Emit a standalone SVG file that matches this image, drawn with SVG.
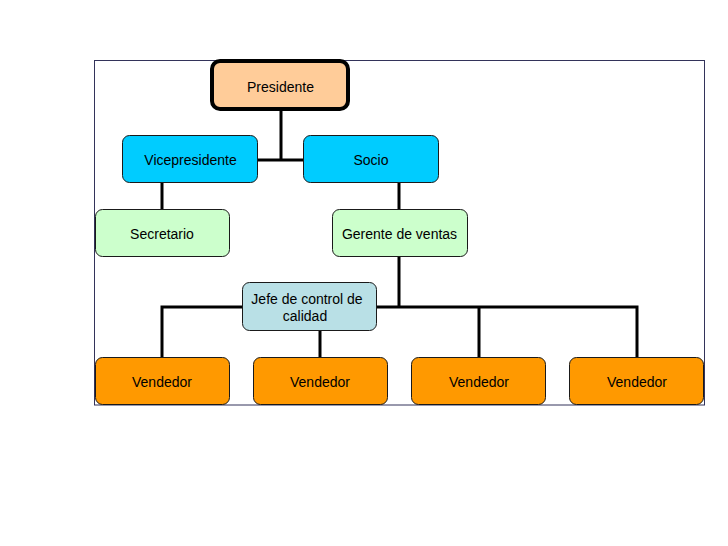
<svg xmlns="http://www.w3.org/2000/svg" width="728" height="546" viewBox="0 0 728 546">
<style>
.box{stroke:#1a1a1a;stroke-width:1}
.t{font-family:"Liberation Sans",Arial,sans-serif;font-size:14px;fill:#000;text-anchor:middle}
.c{stroke:#000;stroke-width:3;fill:none}
</style>
<rect width="728" height="546" fill="#fff"/>
<rect id="frame" x="94.5" y="60.5" width="610" height="344.5" fill="#fff" stroke="#33335a" stroke-width="1"/>
<g id="connectors">
<path class="c" d="M281 110 V160 M258 160 H303"/>
<path class="c" d="M162 183 V209"/>
<path class="c" d="M399 183 V209"/>
<path class="c" d="M399 257 V307 M162 357 V307 H637 V357 M479 307 V357"/>
<path class="c" d="M320 331 V357"/>
</g>
<g id="presidente">
<rect x="212" y="61" width="136" height="48" rx="8" fill="#FFCC99" stroke="#000" stroke-width="4"/>
<text class="t" x="280.5" y="92">Presidente</text>
</g>
<g id="vicepresidente">
<rect class="box" x="122.5" y="135.5" width="135" height="47" rx="7" fill="#00CCFF"/>
<text class="t" x="190.5" y="165">Vicepresidente</text>
</g>
<g id="socio">
<rect class="box" x="303.5" y="135.5" width="135" height="47" rx="7" fill="#00CCFF"/>
<text class="t" x="371" y="165">Socio</text>
</g>
<g id="secretario">
<rect class="box" x="95.5" y="209.5" width="134" height="47" rx="7" fill="#CCFFCC"/>
<text class="t" x="162" y="239">Secretario</text>
</g>
<g id="gerente">
<rect class="box" x="332.5" y="209.5" width="135" height="47" rx="7" fill="#CCFFCC"/>
<text class="t" x="399.5" y="239">Gerente de ventas</text>
</g>
<g id="jefe">
<rect class="box" x="242.5" y="282.5" width="134" height="48" rx="7" fill="#B9E0E6"/>
<text class="t" x="307" y="303.5">Jefe de control de</text>
<text class="t" x="305" y="320.5">calidad</text>
</g>
<g id="vendedor1">
<rect class="box" x="95.5" y="357.5" width="134" height="47" rx="7" fill="#FF9900"/>
<text class="t" x="162" y="387">Vendedor</text>
</g>
<g id="vendedor2">
<rect class="box" x="253.5" y="357.5" width="134" height="47" rx="7" fill="#FF9900"/>
<text class="t" x="320" y="387">Vendedor</text>
</g>
<g id="vendedor3">
<rect class="box" x="411.5" y="357.5" width="134" height="47" rx="7" fill="#FF9900"/>
<text class="t" x="479" y="387">Vendedor</text>
</g>
<g id="vendedor4">
<rect class="box" x="569.5" y="357.5" width="134" height="47" rx="7" fill="#FF9900"/>
<text class="t" x="637" y="387">Vendedor</text>
</g>
</svg>
